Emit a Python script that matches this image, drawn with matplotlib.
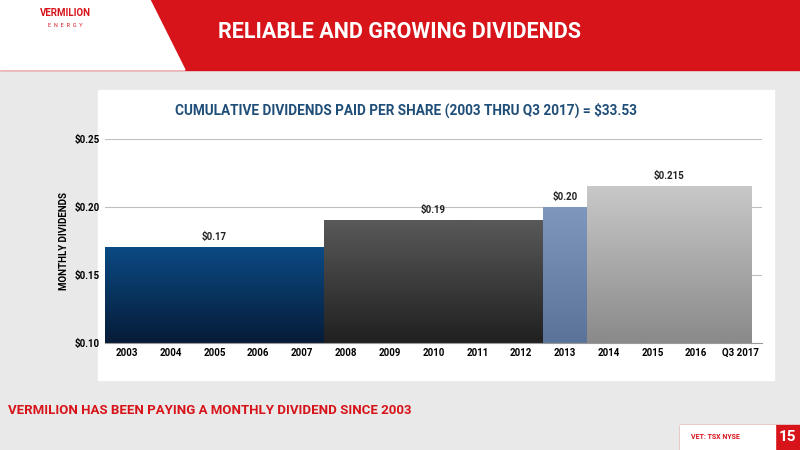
import matplotlib.pyplot as plt
import numpy as np
from matplotlib.patches import Rectangle, Polygon
from matplotlib.colors import LinearSegmentedColormap

plt.rcParams['font.family'] = ['Roboto', 'DejaVu Sans']

years = ['2003', '2004', '2005', '2006', '2007', '2008', '2009', '2010',
         '2011', '2012', '2013', '2014', '2015', '2016', 'Q3 2017']
# dividend periods: (first index, span in years, value, label, top colour, bottom colour)
periods = [
    (0, 5, 0.17, '$0.17', '#0b4a84', '#061c38'),
    (5, 5, 0.19, '$0.19', '#595959', '#202020'),
    (10, 1, 0.20, '$0.20', '#7f97bd', '#5c7399'),
    (11, 3.75, 0.215, '$0.215', '#c8c8c8', '#8a8a8a'),
]

W, H = 800, 450
fig = plt.figure(figsize=(8, 4.5), dpi=100)
bg = fig.add_axes([0, 0, 1, 1])
bg.set_xlim(0, W); bg.set_ylim(H, 0); bg.axis('off')
bg.add_patch(Rectangle((0, 0), W, H, color='#e9e9e9'))
bg.add_patch(Rectangle((0, 0), W, 70, color='#d7141a'))
bg.add_patch(Polygon([(0, 0), (150, 0), (185, 70), (0, 70)], color='white'))
bg.text(65, 16, 'VERMILION', color='#d7141a', fontsize=7, fontweight='bold', ha='center')
bg.text(65, 27, 'E  N  E  R  G  Y', color='#d7141a', fontsize=4, ha='center')
bg.text(400, 32, 'RELIABLE AND GROWING DIVIDENDS', color='white', fontsize=15.5,
        fontweight='bold', ha='center', va='center')
bg.add_patch(Rectangle((98, 90), 676, 290, color='white'))
bg.text(8, 410, 'VERMILION HAS BEEN PAYING A MONTHLY DIVIDEND SINCE 2003',
        color='#d7141a', fontsize=9.5, fontweight='bold', va='center')
bg.add_patch(Rectangle((680, 425), 120, 25, color='#d7141a'))
bg.add_patch(Rectangle((680, 425), 95, 25, color='white'))
bg.text(715, 437, 'VET: TSX NYSE', color='#d7141a', fontsize=5, fontweight='bold',
        ha='center', va='center')
bg.text(787, 437, '15', color='white', fontsize=11, fontweight='bold',
        ha='center', va='center')
bg.text(406, 110, 'CUMULATIVE DIVIDENDS PAID PER SHARE (2003 THRU Q3 2017) = $33.53',
        color='#1f4e79', fontsize=9.8, fontweight='bold', ha='center', va='center')

ax = fig.add_axes([105 / W, 1 - 343 / H, 657 / W, 204 / H])
for start, span, val, lab, c1, c2 in periods:
    grad = np.linspace(1, 0, 100).reshape(-1, 1)
    cmap = LinearSegmentedColormap.from_list('g', [c2, c1])
    x0, x1 = start - 0.5, start - 0.5 + span
    ax.imshow(grad, cmap=cmap, extent=[x0, x1, 0.10, val], aspect='auto',
              origin='upper', zorder=2)
    ax.text((x0 + x1) / 2, val + 0.004, lab, ha='center', va='bottom',
            fontsize=7, fontweight='bold', color='#222222')
ax.set_ylim(0.10, 0.25)
ax.set_yticks([0.10, 0.15, 0.20, 0.25])
ax.set_yticklabels(['$0.10', '$0.15', '$0.20', '$0.25'], fontsize=7, fontweight='bold')
ax.set_xticks(range(len(years)))
ax.set_xticklabels(years, fontsize=7, fontweight='bold')
ax.tick_params(length=0)
ax.grid(axis='y', color='#bfbfbf', linewidth=0.8, zorder=0)
for s in ['top', 'right', 'left']:
    ax.spines[s].set_visible(False)
ax.spines['bottom'].set_color('#999999')
ax.set_ylabel('MONTHLY DIVIDENDS', fontsize=7, fontweight='bold')
ax.set_xlim(-0.5, len(years) - 0.5)

fig.savefig('out.png', dpi=100)
